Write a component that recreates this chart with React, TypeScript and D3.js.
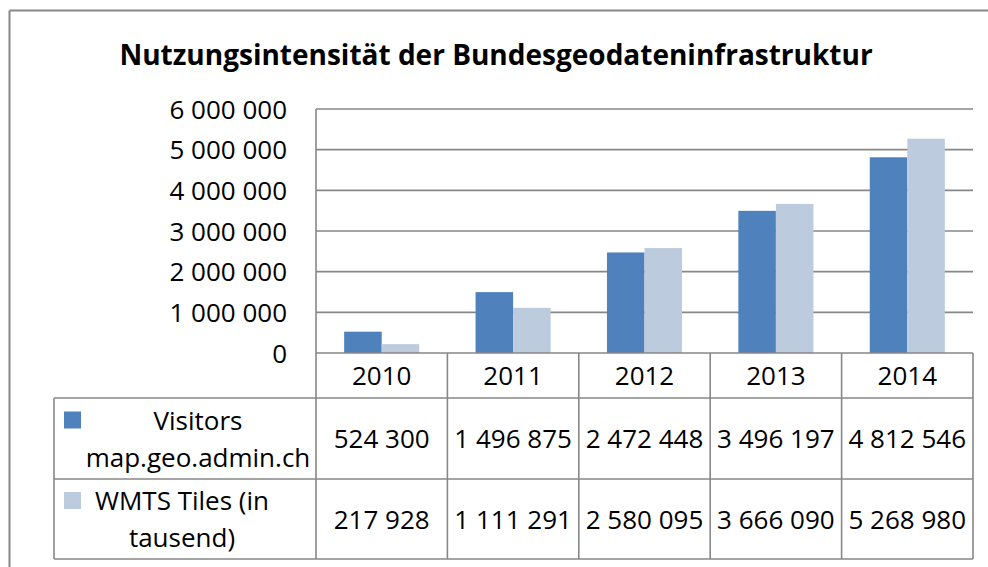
import React, { useEffect, useRef } from "react";
import * as d3 from "d3";

const title = "Nutzungsintensität der Bundesgeodateninfrastruktur";
const years = ["2010", "2011", "2012", "2013", "2014"];
const seriesNames = [["Visitors", "map.geo.admin.ch"], ["WMTS Tiles (in", "tausend)"]];
const visitors = [524300, 1496875, 2472448, 3496197, 4812546];
const wmtsTiles = [217928, 1111291, 2580095, 3666090, 5268980];
const yTicks = [0, 1000000, 2000000, 3000000, 4000000, 5000000, 6000000];
const seriesColors = ["#4F81BD", "#BCCCDE"];

const W = 988;
const H = 567;
const FONT = "'Open Sans', sans-serif";
const FS = 26;

export default function App() {
  const ref = useRef<SVGSVGElement | null>(null);

  useEffect(() => {
    const svg = d3.select(ref.current);
    svg.selectAll("*").remove();

    const series = [visitors, wmtsTiles];
    const plotL = 316, plotR = 973, plotT = 109, plotB = 353;
    const rowY = [353, 398, 479, 559];
    const tableL = 54;
    const grid = "#878787";

    svg.append("rect").attr("x", 0).attr("y", 0).attr("width", W).attr("height", H).attr("fill", "#fff");

    // outer frame: only top and left edges are inside the picture
    svg.append("line").attr("x1", 9.5).attr("x2", W).attr("y1", 10.5).attr("y2", 10.5)
      .attr("stroke", "#888").attr("stroke-width", 2);
    svg.append("line").attr("x1", 9.5).attr("x2", 9.5).attr("y1", 10.5).attr("y2", H)
      .attr("stroke", "#888").attr("stroke-width", 2);

    svg.append("text").attr("x", 496).attr("y", 65).attr("text-anchor", "middle")
      .attr("font-family", FONT).attr("font-weight", 700).attr("font-size", 28)
      .attr("fill", "#000").text(title);

    const y = d3.scaleLinear().domain([0, 6000000]).range([plotB, plotT]);
    const x0 = d3.scaleBand<string>().domain(years).range([plotL, plotR]).paddingInner(0).paddingOuter(0);
    const x1 = d3.scaleBand<number>().domain([0, 1]).range([0, x0.bandwidth()]).paddingInner(0).paddingOuter(0.75);

    const fmt = (v: number) => d3.format(",")(v).replace(/,/g, " ");

    svg.append("g").selectAll("line").data(yTicks.filter(t => t > 0)).join("line")
      .attr("x1", plotL).attr("x2", plotR).attr("y1", d => y(d)).attr("y2", d => y(d))
      .attr("stroke", grid).attr("stroke-width", 1.6);

    svg.append("g").selectAll("text").data(yTicks).join("text")
      .attr("x", 287).attr("y", d => y(d) + 9.5).attr("text-anchor", "end")
      .attr("font-family", FONT).attr("font-size", FS).attr("fill", "#000")
      .text(d => fmt(d));

    series.forEach((vals, si) => {
      svg.append("g").selectAll("rect").data(vals).join("rect")
        .attr("x", (_, i) => (x0(years[i]) as number) + (x1(si) as number))
        .attr("width", x1.bandwidth())
        .attr("y", d => y(d)).attr("height", d => plotB - y(d))
        .attr("fill", seriesColors[si]);
    });

    const lines = svg.append("g").attr("stroke", grid).attr("stroke-width", 1.6);
    lines.append("line").attr("x1", plotL).attr("x2", plotL).attr("y1", plotT).attr("y2", rowY[3]);
    lines.append("line").attr("x1", plotL).attr("x2", plotR).attr("y1", plotB).attr("y2", plotB);
    years.forEach((yr) => {
      const xr = (x0(yr) as number) + x0.bandwidth();
      lines.append("line").attr("x1", xr).attr("x2", xr).attr("y1", plotB).attr("y2", rowY[3]);
    });
    [rowY[1], rowY[2], rowY[3]].forEach(r => {
      lines.append("line").attr("x1", tableL).attr("x2", plotR).attr("y1", r).attr("y2", r);
    });
    lines.append("line").attr("x1", tableL).attr("x2", tableL).attr("y1", rowY[1]).attr("y2", rowY[3]);

    svg.append("g").selectAll("text").data(years).join("text")
      .attr("x", d => (x0(d) as number) + x0.bandwidth() / 2)
      .attr("y", (rowY[0] + rowY[1]) / 2 + 9.5).attr("text-anchor", "middle")
      .attr("font-family", FONT).attr("font-size", FS).attr("fill", "#000").text(d => d);

    const legendCenters = [198, 182];
    series.forEach((vals, si) => {
      const cy = (rowY[si + 1] + rowY[si + 2]) / 2;
      svg.append("g").selectAll("text").data(vals).join("text")
        .attr("x", (_, i) => (x0(years[i]) as number) + x0.bandwidth() / 2)
        .attr("y", cy + 9.5).attr("text-anchor", "middle")
        .attr("font-family", FONT).attr("font-size", FS).attr("fill", "#000")
        .text(d => fmt(d));
      svg.append("rect").attr("x", 64).attr("y", cy - 27).attr("width", 17).attr("height", 17)
        .attr("fill", seriesColors[si]);
      seriesNames[si].forEach((ln, li) => {
        svg.append("text").attr("x", legendCenters[si]).attr("y", cy + 9.5 - 18.5 + li * 37)
          .attr("text-anchor", "middle").attr("font-family", FONT).attr("font-size", FS)
          .attr("fill", "#000").text(ln);
      });
    });
  }, []);

  return (
    <>
      <style>{"html,body{margin:0;padding:0;overflow:hidden;background:#fff}"}</style>
      <svg ref={ref} width={W} height={H} style={{ display: "block" }} />
    </>
  );
}
